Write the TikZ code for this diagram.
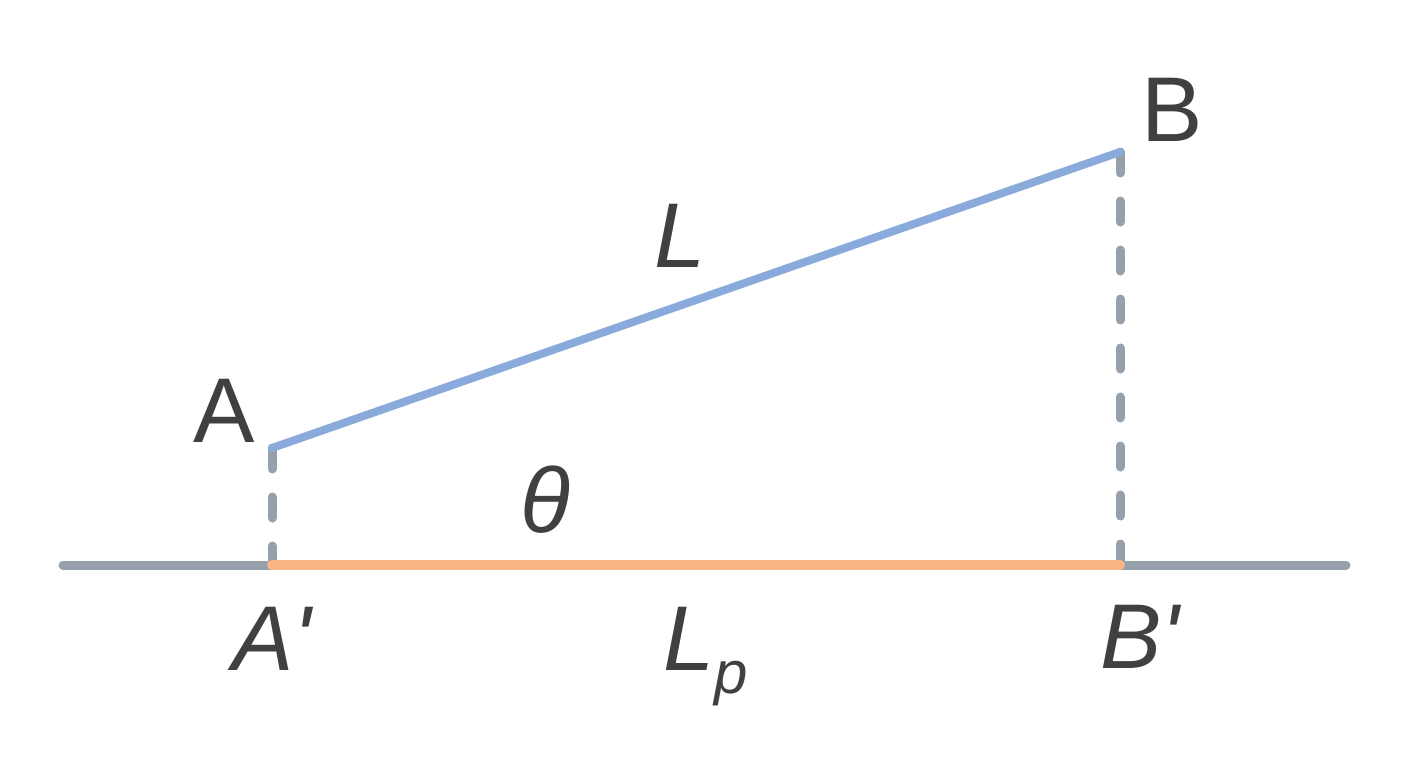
\documentclass[tikz,border=0pt]{standalone}
\usepackage{fontspec}
\setmainfont{Liberation Sans}[Ligatures=TeXOff]
\definecolor{txt}{HTML}{404040}
\definecolor{axisgray}{HTML}{96A0AC}
\definecolor{segblue}{HTML}{8AAADB}
\definecolor{segorange}{HTML}{FAB486}
\begin{document}
\begin{tikzpicture}[x=1pt,y=-1pt,
  lab/.style={text=txt,inner sep=0pt,anchor=base,font=\fontsize{92}{92}\selectfont},
  ilab/.style={lab,font=\fontsize{92}{92}\selectfont\itshape},
  axisline/.style={draw=axisgray,line width=9pt,line cap=round},
  dropline/.style={draw=axisgray,line width=9pt,line cap=round,dash pattern=on 21pt off 28pt},
  projline/.style={draw=segorange,line width=10pt,line cap=round},
  segline/.style={draw=segblue,line width=8pt,line cap=round}]
\useasboundingbox (0,0) rectangle (1408,768);
\fill[white] (0,0) rectangle (1408,768);
\coordinate (L0) at (63,565);
\coordinate (R0) at (1346,565);
\coordinate (A) at (272,448);
\coordinate (B) at (1120,152);
\coordinate (Ap) at (272,565);
\coordinate (Bp) at (1120,565);
\draw[axisline] (L0) -- (R0);
\draw[dropline] (A) -- (Ap);
\draw[dropline] (B) -- (Bp);
\draw[projline] (Ap) -- (Bp);
\draw[segline] (A) -- (B);
\node[lab] (lA) at (224,442) {A};
\node[lab] (lB) at (1172,141) {B};
\node[ilab] (lL) at (680,267) {L};
\node[ilab] (lth) at (545,532) {θ};
\node[ilab] (lAp) at (272,670) {A'};
\node[ilab] (lBp) at (1140,668) {B'};
\node[ilab] (lLp) at (706,670) {L\raisebox{-23pt}{\fontsize{60}{60}\selectfont p}};
\end{tikzpicture}
\end{document}
